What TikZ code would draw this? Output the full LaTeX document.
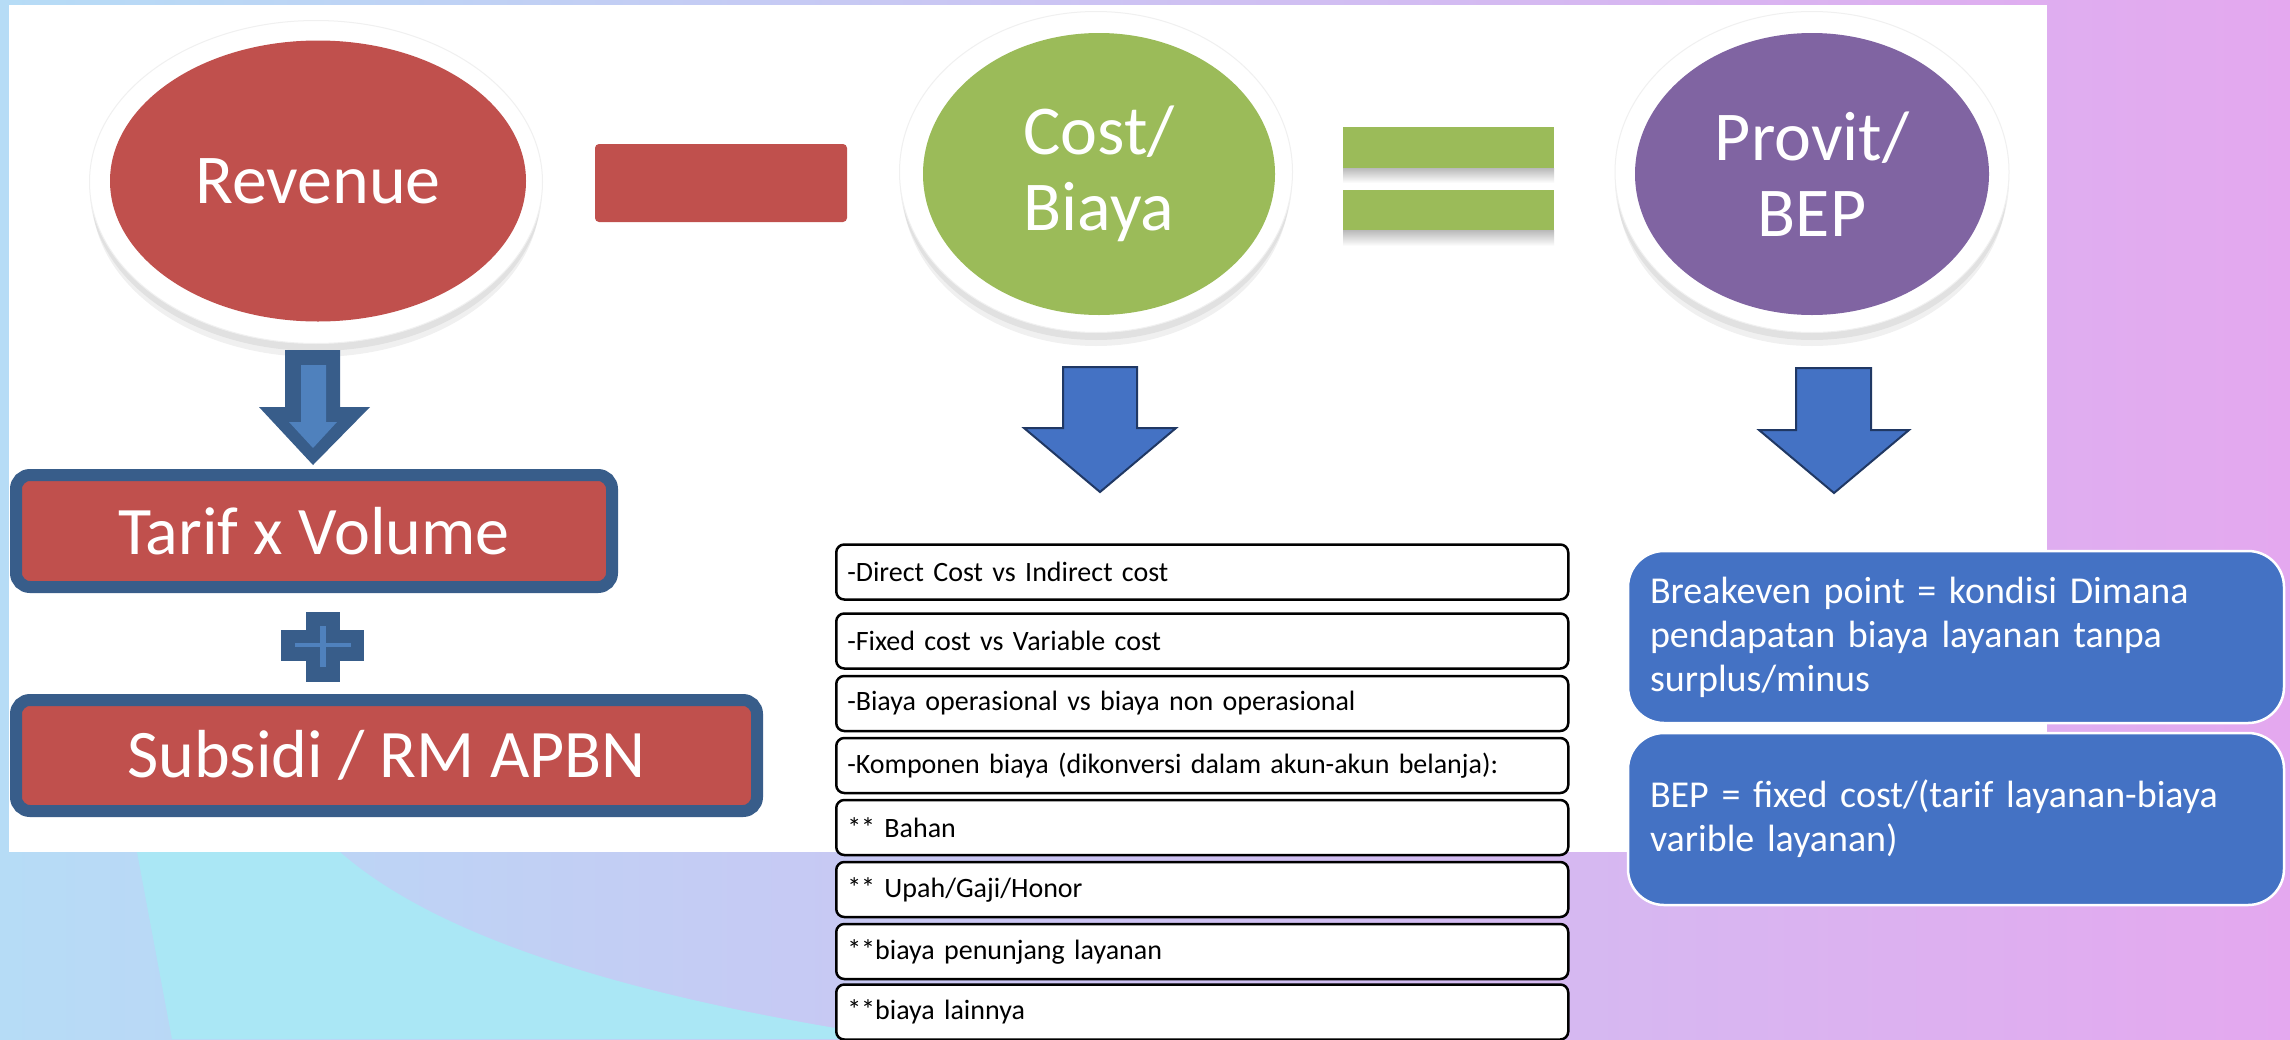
\documentclass[tikz,border=0pt]{standalone}
\usepackage{fontspec}
\setmainfont{Carlito}
\usepackage{tikz}
\usetikzlibrary{shapes,positioning}
\usepackage{xcolor}

\definecolor{revred}{HTML}{C0504D}
\definecolor{costgreen}{HTML}{9BBB59}
\definecolor{provpurple}{HTML}{8064A2}
\definecolor{arrowblue}{HTML}{4472C4}
\definecolor{arrowedge}{HTML}{203864}
\definecolor{boxedge}{HTML}{385D8A}
\definecolor{boxlight}{HTML}{4F81BD}
\definecolor{bgblue}{HTML}{B6DCF6}
\definecolor{bglav}{HTML}{C6C4F1}
\definecolor{bgpink}{HTML}{E4A8EF}
\definecolor{bgcyan}{HTML}{AAE7F5}

\tikzset{
  ring/.style={ellipse, fill=white, draw=gray!12, line width=1pt},
  blob/.style={ellipse, text=white, align=center, inner sep=0pt, font=\fontsize{70}{76}\selectfont},
  eqbar/.style={fill=costgreen, minimum width=211pt, minimum height=41pt, inner sep=0pt},
  blockarrow/.style={fill=arrowblue, draw=arrowedge, line width=2pt, line join=miter},
  redbox/.style={draw=boxedge, line width=12pt, fill=revred, rounded corners=14pt, text=white, font=\fontsize{68}{76}\selectfont},
  costitem/.style={draw=black, line width=2.5pt, fill=white, rounded corners=8pt, anchor=west,
    minimum width=732pt, minimum height=55pt, text width=710pt, inner xsep=11pt, inner ysep=0pt,
    align=left, font=\fontsize{28}{32}\selectfont},
  bepbox/.style={draw=white, line width=2.5pt, fill=arrowblue, rounded corners=36pt, text=white,
    minimum width=656pt, minimum height=172pt, text width=612pt, inner xsep=22pt, inner ysep=0pt,
    align=left, font=\fontsize{38}{44}\selectfont}
}

\begin{document}
\begin{tikzpicture}[x=1pt, y=-1pt]
    \useasboundingbox (0,0) rectangle (2290,1039);

    % background and slide panel
    \shade[left color=bgblue, middle color=bglav, right color=bgpink] (0,0) rectangle (2290,1039);
    \fill[bgcyan] (137,852) -- (172,1039) -- (905,1039) .. controls (640,1000) and (440,940) .. (340,852) -- cycle;
    \fill[white] (9,5) rectangle (2047,852);

    % soft shadows under the rings
    \fill[black, opacity=0.06] (316,190) ellipse [x radius=226pt, y radius=161pt];
    \fill[black, opacity=0.06] (316,197) ellipse [x radius=224pt, y radius=160pt];
    \fill[black, opacity=0.06] (1096,180) ellipse [x radius=196pt, y radius=160pt];
    \fill[black, opacity=0.06] (1096,187) ellipse [x radius=194pt, y radius=159pt];
    \fill[black, opacity=0.06] (1812,180) ellipse [x radius=197pt, y radius=160pt];
    \fill[black, opacity=0.06] (1812,187) ellipse [x radius=195pt, y radius=159pt];

    \node[ring, minimum width=453pt, minimum height=323pt] (revring) at (316,182) {};
    \node[blob, fill=revred, minimum width=416pt, minimum height=281pt] (revenue) at (318,181) {Revenue};

    \node[fill=revred, rounded corners=4pt, minimum width=252pt, minimum height=78pt, inner sep=0pt] (minus) at (721,183) {};

    \node[ring, minimum width=393pt, minimum height=321pt] (costring) at (1096,172) {};
    \node[blob, fill=costgreen, minimum width=352pt, minimum height=282pt] (cost) at (1099,174) {Cost/\\Biaya};

    \shade[top color=gray!55, bottom color=white] (1343,168) rectangle (1554,183);
    \shade[top color=gray!55, bottom color=white] (1343,230) rectangle (1554,246);
    \node[eqbar] (eqtop) at (1448.5,147.5) {};
    \node[eqbar, minimum height=40pt] (eqbot) at (1448.5,210) {};

    \node[ring, minimum width=394pt, minimum height=321pt] (provring) at (1812,172) {};
    \node[blob, fill=provpurple, minimum width=354pt, minimum height=282pt] (provit) at (1812,174) {Provit/\\BEP};

    % down arrows
    \fill[boxedge] (285,350) -- (340,350) -- (340,407) -- (370,407) -- (313,465) -- (259,407) -- (285,407) -- cycle;
    \fill[boxlight] (301,365) -- (326,365) -- (326,422) -- (337,422) -- (313,448) -- (289,422) -- (301,422) -- cycle;
    \draw[blockarrow] (1063,367) -- (1137,367) -- (1137,428) -- (1176,428) -- (1100,492) -- (1024,428) -- (1063,428) -- cycle;
    \draw[blockarrow] (1796,368) -- (1871,368) -- (1871,430) -- (1909,430) -- (1834,493) -- (1759,430) -- (1796,430) -- cycle;

    % revenue side
    \node[redbox, minimum width=596pt, minimum height=112pt] (tarif) at (314,531) {Tarif x Volume};
    \fill[boxedge] (306,612) rectangle (340,682);
    \fill[boxedge] (281,630) rectangle (364,661);
    \draw[boxlight, line width=6pt] (323,626) -- (323,667);
    \draw[boxlight, line width=4pt] (295,645) -- (351,645);
    \node[redbox, minimum width=741pt, minimum height=111pt] (subsidi) at (386.5,755.5) {Subsidi / RM APBN};

    % cost list
    \node[costitem] (item1) at (835,572) {-Direct Cost vs Indirect cost};
    \node[costitem] (item2) at (835,641) {-Fixed cost vs Variable cost};
    \node[costitem] (item3) at (835,703.5) {-Biaya operasional vs biaya non operasional};
    \node[costitem] (item4) at (835,765.5) {-Komponen biaya (dikonversi dalam akun-akun belanja):};
    \node[costitem] (item5) at (835,827.5) {** Bahan};
    \node[costitem] (item6) at (835,889.5) {** Upah/Gaji/Honor};
    \node[costitem] (item7) at (835,951.5) {**biaya penunjang layanan};
    \node[costitem] (item8) at (835,1012) {**biaya lainnya};

    % BEP notes
    \node[bepbox] (bep1) at (1956,637) {Breakeven point = kondisi Dimana\\pendapatan biaya layanan tanpa\\surplus/minus};
    \node[bepbox] (bep2) at (1956,819) {BEP = fixed cost/(tarif layanan-biaya\\varible layanan)};
\end{tikzpicture}
\end{document}
